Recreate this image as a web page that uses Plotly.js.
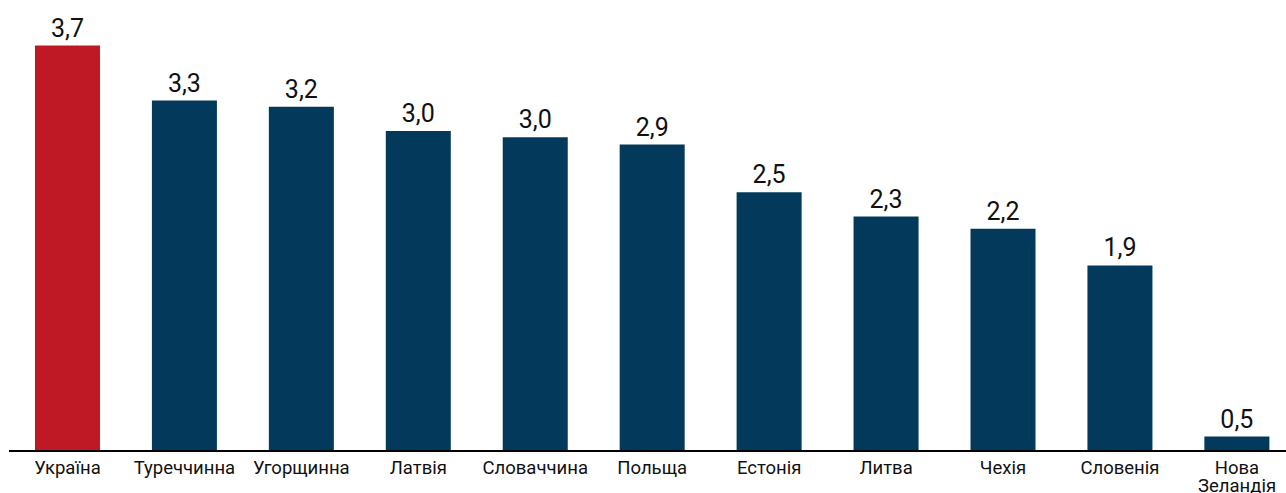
<!DOCTYPE html>
<html>
<head>
<meta charset="utf-8">
<script src="https://cdn.plot.ly/plotly-3.0.1.min.js"></script>
<style>
html,body{margin:0;padding:0;background:#fff;}
#chart{width:1286px;height:493px;}
</style>
</head>
<body>
<div id="chart"></div>
<script>
const categories = ["Україна","Туреччинна","Угорщинна","Латвія","Словаччина","Польща","Естонія","Литва","Чехія","Словенія","Нова Зеландія"];
const tickLabels = ["Україна","Туреччинна","Угорщинна","Латвія","Словаччина","Польща","Естонія","Литва","Чехія","Словенія","Нова"];
const values = [3.7, 3.25, 3.2, 3.0, 2.95, 2.89, 2.5, 2.3, 2.2, 1.9, 0.5];
const valueLabels = ["3,7","3,3","3,2","3,0","3,0","2,9","2,5","2,3","2,2","1,9","0,5"];
const barColors = ["#BF1926","#033A5C","#033A5C","#033A5C","#033A5C","#033A5C","#033A5C","#033A5C","#033A5C","#033A5C","#033A5C"];

const trace = {
  type: "bar",
  x: categories,
  y: values,
  text: valueLabels,
  textposition: "outside",
  cliponaxis: false,
  textfont: {family: "Roboto, sans-serif", size: 25, color: "#111"},
  marker: {color: barColors, line: {width: 0}},
  hoverinfo: "x+y"
};

const layout = {
  width: 1286,
  height: 493,
  margin: {l: 9, r: 0, t: 20, b: 43},
  paper_bgcolor: "#fff",
  plot_bgcolor: "#fff",
  bargap: 0.444,
  showlegend: false,
  font: {family: "Roboto, sans-serif", color: "#111"},
  xaxis: {
    type: "category",
    range: [-0.5, 10.42],
    tickmode: "array",
    tickvals: categories,
    ticktext: tickLabels,
    tickfont: {family: "Roboto, sans-serif", size: 18.5, color: "#111"},
    showline: true,
    linecolor: "#000",
    linewidth: 2,
    showgrid: false,
    ticks: "",
    fixedrange: true
  },
  yaxis: {
    range: [0.39, 3.909],
    visible: false,
    showgrid: false,
    zeroline: false,
    fixedrange: true
  },
  annotations: [{
    x: categories[10],
    xref: "x",
    y: 0,
    yref: "paper",
    yshift: -23,
    yanchor: "top",
    text: "Зеландія",
    showarrow: false,
    font: {family: "Roboto, sans-serif", size: 18.5, color: "#111"}
  }]
};

Plotly.newPlot("chart", [trace], layout, {displayModeBar: false});
</script>
</body>
</html>
